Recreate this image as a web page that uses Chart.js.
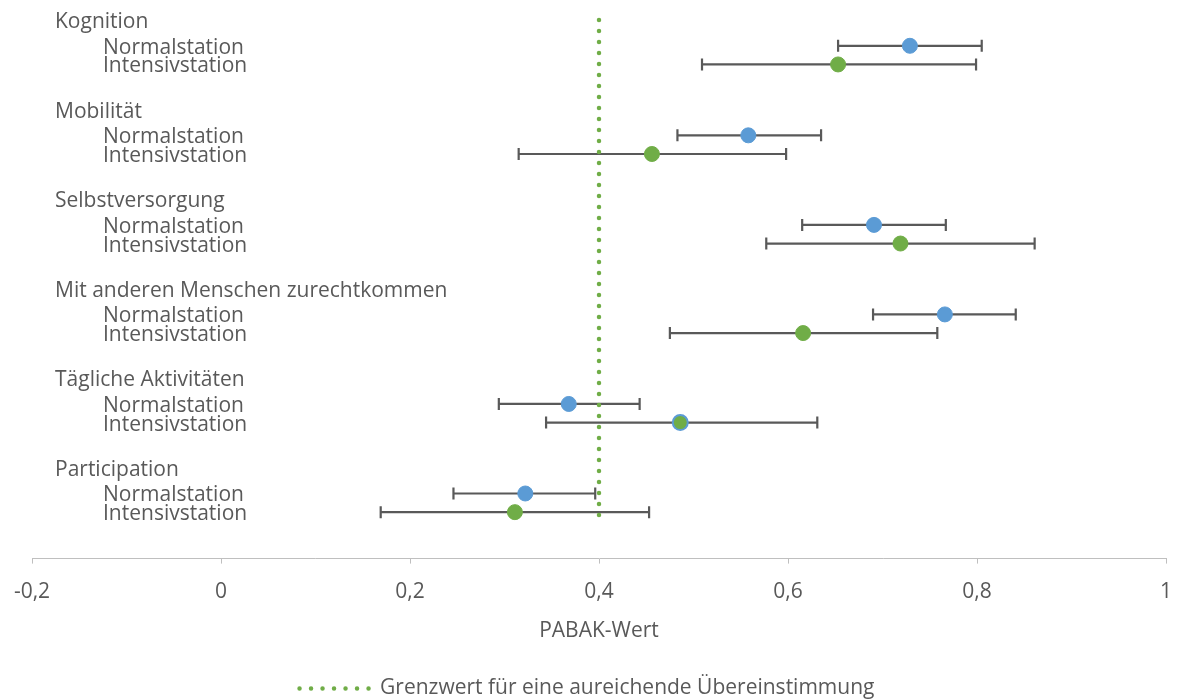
<!DOCTYPE html>
<html>
<head>
<meta charset="utf-8">
<script src="https://cdn.jsdelivr.net/npm/chart.js@4.4.1/dist/chart.umd.min.js"></script>
<style>
  html, body { margin: 0; padding: 0; background: #ffffff; }
  #wrap { width: 1180px; height: 699px; position: relative; }
</style>
</head>
<body>
<div id="wrap"><canvas id="myChart"></canvas></div>
<script>
// Data
const groups = ["Kognition", "Mobilität", "Selbstversorgung", "Mit anderen Menschen zurechtkommen", "Tägliche Aktivitäten", "Participation"];
const stations = ["Normalstation", "Intensivstation"];

const normalValue = [0.729, 0.558, 0.691, 0.766, 0.368, 0.322];
const normalLower = [0.653, 0.483, 0.615, 0.690, 0.294, 0.246];
const normalUpper = [0.805, 0.635, 0.767, 0.841, 0.443, 0.396];

const intensivValue = [0.653, 0.456, 0.719, 0.616, 0.486, 0.311];
const intensivLower = [0.509, 0.315, 0.577, 0.475, 0.344, 0.169];
const intensivUpper = [0.799, 0.598, 0.861, 0.758, 0.631, 0.453];

const threshold = 0.4;
const xTicks = [-0.2, 0, 0.2, 0.4, 0.6, 0.8, 1];

const BLUE = "#5B9BD5";
const GREEN = "#70AD47";
const GREY = "#595959";
const FONT = "'Open Sans', sans-serif";
const FONT_SIZE = 21;

// vertical row layout (in row units)
const GROUP_STEP = 4.8;
const rowHeader = (g) => g * GROUP_STEP;
const rowNormal = (g) => g * GROUP_STEP + 1.38;
const rowIntensiv = (g) => g * GROUP_STEP + 2.38;

// error bars + left labels
const errorBarsAndLabels = {
  id: "errorBarsAndLabels",
  afterLayout(chart) {
    // legend sits a bit left of centre in the original
    if (chart.legend) {
      chart.legend.left -= 12;
      chart.legend.right -= 12;
    }
  },
  beforeDatasetsDraw(chart) {
    const { ctx, scales: { x, y } } = chart;
    ctx.save();
    ctx.strokeStyle = GREY;
    ctx.lineWidth = 2.2;
    const bar = (lo, hi, yv) => {
      const py = y.getPixelForValue(yv);
      const x1 = x.getPixelForValue(lo);
      const x2 = x.getPixelForValue(hi);
      ctx.beginPath();
      ctx.moveTo(x1, py); ctx.lineTo(x2, py);
      ctx.moveTo(x1, py - 6); ctx.lineTo(x1, py + 6);
      ctx.moveTo(x2, py - 6); ctx.lineTo(x2, py + 6);
      ctx.stroke();
    };
    groups.forEach((g, i) => {
      bar(normalLower[i], normalUpper[i], rowNormal(i));
      bar(intensivLower[i], intensivUpper[i], rowIntensiv(i));
    });

    // category labels
    ctx.fillStyle = GREY;
    ctx.font = `${FONT_SIZE}px ${FONT}`;
    ctx.textAlign = "left";
    ctx.textBaseline = "middle";
    const left = x.getPixelForValue(-0.2);
    groups.forEach((g, i) => {
      ctx.fillText(g, left + 23, y.getPixelForValue(rowHeader(i)) + 2);
      ctx.fillText(stations[0], left + 71, y.getPixelForValue(rowNormal(i)) + 2);
      ctx.fillText(stations[1], left + 71, y.getPixelForValue(rowIntensiv(i)) + 2);
    });
    ctx.restore();
  }
};

const ctx = document.getElementById("myChart");

new Chart(ctx, {
  type: "scatter",
  data: {
    datasets: [
      {
        label: stations[0],
        data: normalValue.map((v, i) => ({ x: v, y: rowNormal(i) })),
        backgroundColor: BLUE,
        borderColor: BLUE,
        pointRadius: 7.5,
        pointHoverRadius: 7.5,
        order: 1
      },
      {
        label: stations[1],
        data: intensivValue.map((v, i) => ({ x: v, y: rowIntensiv(i) })),
        backgroundColor: GREEN,
        borderColor: intensivValue.map((v, i) => i === 4 ? BLUE : GREEN),
        borderWidth: intensivValue.map((v, i) => i === 4 ? 2 : 1),
        pointRadius: 7.5,
        pointHoverRadius: 7.5,
        order: 1
      },
      {
        label: "Grenzwert für eine aureichende Übereinstimmung",
        type: "line",
        data: [{ x: threshold, y: rowHeader(0) }, { x: threshold, y: rowIntensiv(5) + 0.7 }],
        borderColor: GREEN,
        borderWidth: 4.5,
        borderDash: [0, 11],
        borderCapStyle: "round",
        pointRadius: 0,
        showLine: true,
        fill: false,
        order: 2
      }
    ]
  },
  options: {
    responsive: true,
    maintainAspectRatio: false,
    animation: false,
    layout: { autoPadding: false, padding: { top: 0, left: 32, right: 14, bottom: -10 } },
    scales: {
      x: {
        type: "linear",
        min: -0.2,
        max: 1,
        afterBuildTicks: (axis) => { axis.ticks = xTicks.map(v => ({ value: v })); },
        // labels may overhang; the layout padding handles the edges
        afterFit: (axis) => { axis.paddingLeft = 0; axis.paddingRight = 0; },
        ticks: {
          color: GREY,
          padding: 16,
          font: { family: FONT, size: FONT_SIZE },
          callback: (v) => String(Math.round(v * 10) / 10).replace(".", ",")
        },
        grid: { drawOnChartArea: false, drawTicks: true, tickLength: 5, color: "#BFBFBF" },
        border: { color: "#BFBFBF", width: 1 },
        title: {
          display: true,
          text: "PABAK-Wert",
          color: GREY,
          font: { family: FONT, size: FONT_SIZE },
          padding: { top: -2, bottom: 28 }
        }
      },
      y: {
        type: "linear",
        display: false,
        reverse: true,
        min: -1.075,
        max: 28.87
      }
    },
    plugins: {
      tooltip: { enabled: false },
      legend: {
        position: "bottom",
        align: "center",
        onClick: null,
        labels: {
          usePointStyle: true,
          pointStyleWidth: 70,
          color: GREY,
          font: { family: FONT, size: FONT_SIZE },
          padding: 6,
          filter: (item) => item.datasetIndex === 2,
          generateLabels: (chart) => chart.data.datasets.map((ds, i) => ({
            text: ds.label,
            datasetIndex: i,
            pointStyle: "line",
            strokeStyle: GREEN,
            fillStyle: GREEN,
            lineWidth: 4.5,
            lineDash: [0, 11.5],
            lineCap: "round",
            fontColor: GREY,
            hidden: false
          }))
        }
      }
    }
  },
  plugins: [errorBarsAndLabels]
});
</script>
</body>
</html>
